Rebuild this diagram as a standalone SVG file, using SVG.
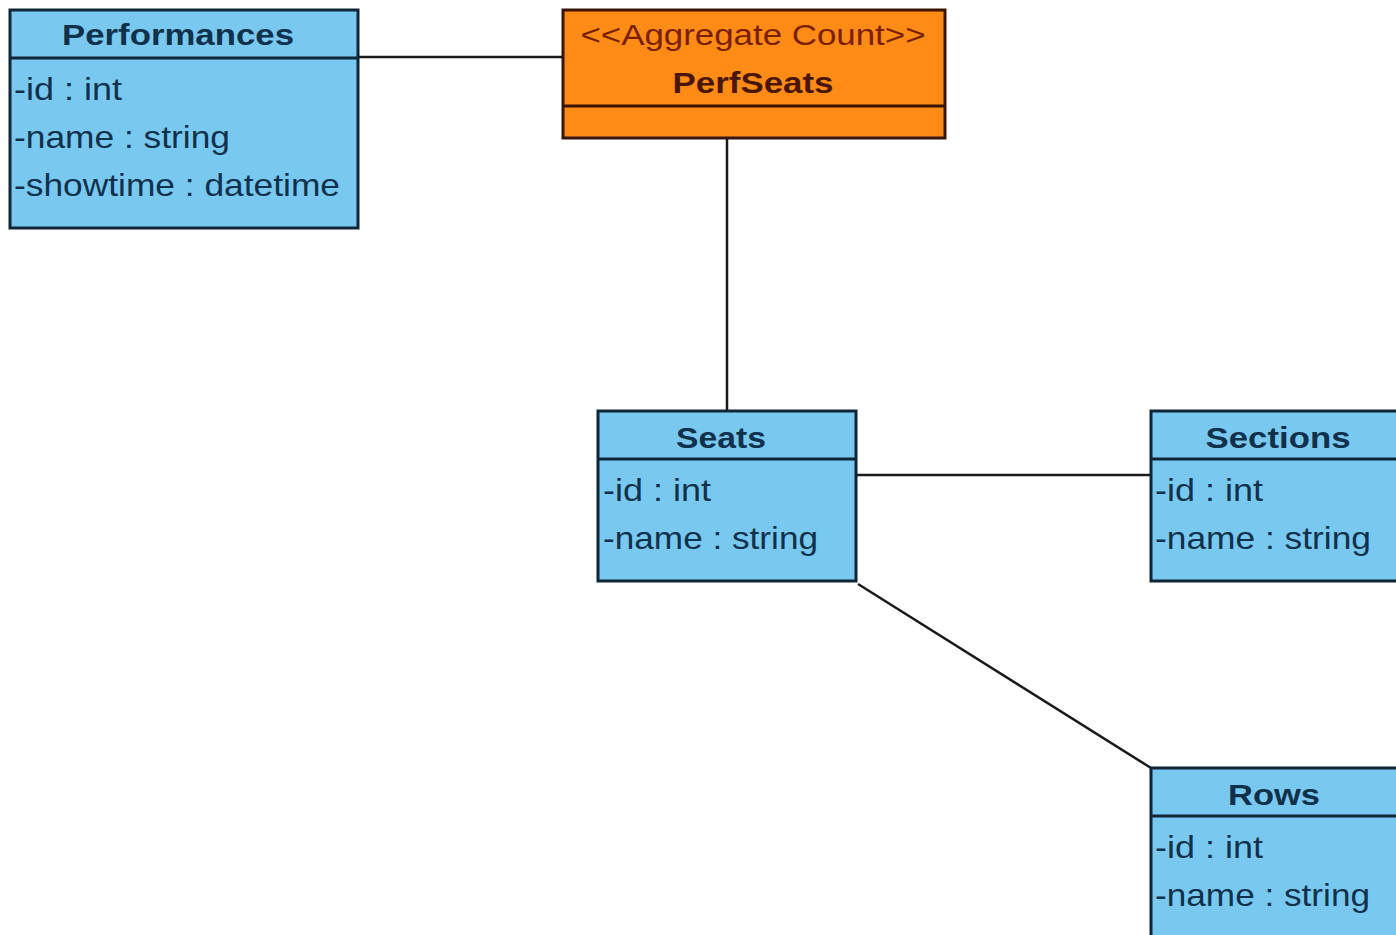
<svg xmlns="http://www.w3.org/2000/svg" width="1396" height="935" viewBox="0 0 1396 935">
  <style>
    .cls { fill: #79c8f0; stroke: #0f2638; stroke-width: 3; }
    .agg { fill: #fd8b15; stroke: #3a1406; stroke-width: 3; }
    .div { stroke: #0f2638; stroke-width: 3; }
    .adiv { stroke: #3a1406; stroke-width: 3; }
    .name { font-family: "Liberation Sans", Arial, sans-serif; font-weight: bold; font-size: 30px; fill: #10314b; text-anchor: middle; }
    .attr { font-family: "Liberation Sans", Arial, sans-serif; font-size: 32px; fill: #10314b; }
    .aname { font-family: "Liberation Sans", Arial, sans-serif; font-weight: bold; font-size: 30px; fill: #4a1608; text-anchor: middle; }
    .stereo { font-family: "Liberation Sans", Arial, sans-serif; font-size: 30px; fill: #7a2008; text-anchor: middle; }
    .edge { stroke: #1a1a1a; stroke-width: 2.5; fill: none; }
  </style>
  <rect width="1396" height="935" fill="#ffffff"/>

  <g id="connectors">
    <line class="edge" x1="358" y1="57" x2="563" y2="57"/>
    <line class="edge" x1="727" y1="138" x2="727" y2="411"/>
    <line class="edge" x1="856" y1="475" x2="1151" y2="475"/>
    <line class="edge" x1="858" y1="584" x2="1151" y2="768"/>
  </g>

  <g id="performances">
    <rect class="cls" x="10" y="10" width="348" height="218"/>
    <line class="div" x1="10" y1="58" x2="358" y2="58"/>
    <text class="name" x="178" y="45" textLength="232" lengthAdjust="spacingAndGlyphs">Performances</text>
    <text class="attr" x="14" y="100" textLength="108" lengthAdjust="spacingAndGlyphs">-id : int</text>
    <text class="attr" x="14" y="148" textLength="216" lengthAdjust="spacingAndGlyphs">-name : string</text>
    <text class="attr" x="14" y="196" textLength="326" lengthAdjust="spacingAndGlyphs">-showtime : datetime</text>
  </g>

  <g id="perfseats">
    <rect class="agg" x="563" y="10" width="382" height="128"/>
    <line class="adiv" x1="563" y1="106" x2="945" y2="106"/>
    <text class="stereo" x="753" y="45" textLength="345" lengthAdjust="spacingAndGlyphs">&lt;&lt;Aggregate Count&gt;&gt;</text>
    <text class="aname" x="753" y="93" textLength="161" lengthAdjust="spacingAndGlyphs">PerfSeats</text>
  </g>

  <g id="seats">
    <rect class="cls" x="598" y="411" width="258" height="170"/>
    <line class="div" x1="598" y1="459" x2="856" y2="459"/>
    <text class="name" x="721" y="448" textLength="90" lengthAdjust="spacingAndGlyphs">Seats</text>
    <text class="attr" x="603" y="501" textLength="108" lengthAdjust="spacingAndGlyphs">-id : int</text>
    <text class="attr" x="603" y="549" textLength="215" lengthAdjust="spacingAndGlyphs">-name : string</text>
  </g>

  <g id="sections">
    <rect class="cls" x="1151" y="411" width="260" height="170"/>
    <line class="div" x1="1151" y1="459" x2="1411" y2="459"/>
    <text class="name" x="1278" y="448" textLength="145" lengthAdjust="spacingAndGlyphs">Sections</text>
    <text class="attr" x="1155" y="501" textLength="108" lengthAdjust="spacingAndGlyphs">-id : int</text>
    <text class="attr" x="1155" y="549" textLength="216" lengthAdjust="spacingAndGlyphs">-name : string</text>
  </g>

  <g id="rows">
    <rect class="cls" x="1151" y="768" width="260" height="180"/>
    <line class="div" x1="1151" y1="816" x2="1411" y2="816"/>
    <text class="name" x="1274" y="805" textLength="92" lengthAdjust="spacingAndGlyphs">Rows</text>
    <text class="attr" x="1155" y="858" textLength="108" lengthAdjust="spacingAndGlyphs">-id : int</text>
    <text class="attr" x="1155" y="906" textLength="215" lengthAdjust="spacingAndGlyphs">-name : string</text>
  </g>
</svg>
